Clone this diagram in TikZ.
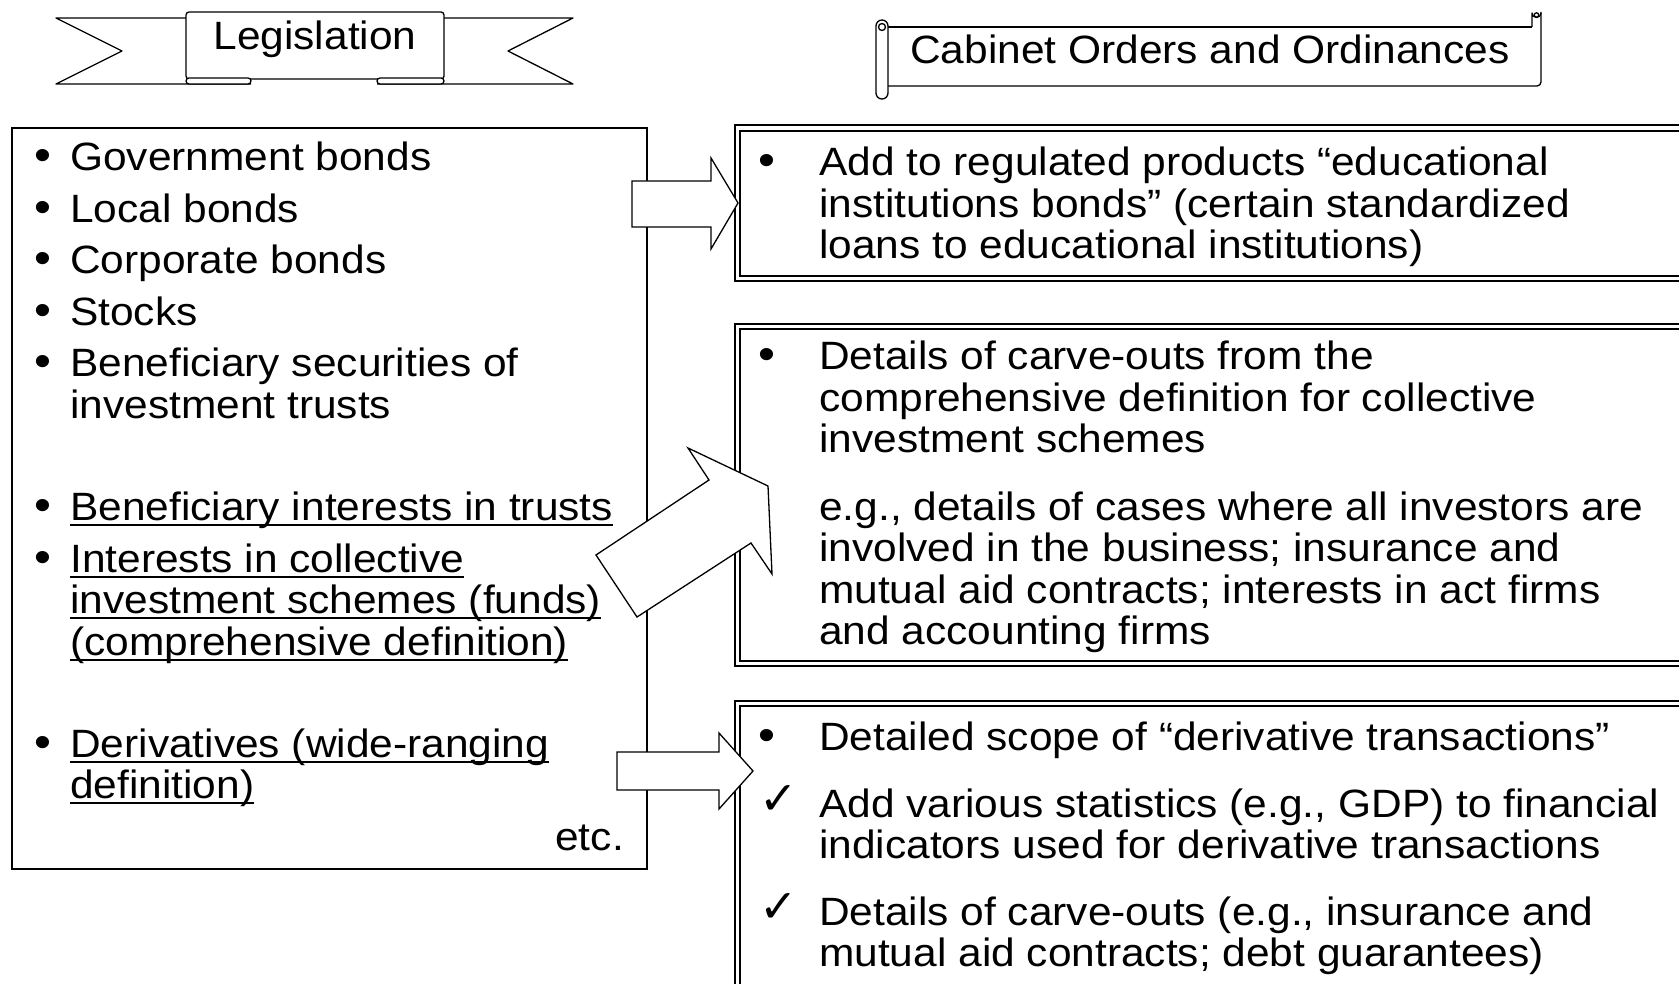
\documentclass[tikz,border=0pt]{standalone}
\usepackage{fontspec}
\setmainfont{Liberation Sans}[FakeStretch=1.075]
\newfontfamily\checkfont{DejaVu Sans}
% underlined text: rule a few points below the baseline
\newcommand{\ulined}[1]{\leavevmode\setbox0\hbox{#1}\rlap{\rule[-5.5pt]{\wd0}{1.9pt}}\box0}
% ragged block of lines whose baseline is the first line
\newcommand{\multiline}[2]{\parbox[t]{#1}{\raggedright #2}}

\begin{document}
\begin{tikzpicture}[x=1pt,y=-1pt,
  txt/.style={anchor=base west,inner sep=0pt,font=\fontsize{39.5}{41.5}\selectfont},
  dot/.style={anchor=base,inner sep=0pt,font=\fontsize{45}{41.5}\selectfont},
  tick/.style={anchor=base,inner sep=0pt,font=\checkfont\bfseries\fontsize{46}{46}\selectfont},
  frame/.style={line width=1.3pt},
  outerline/.style={line width=1.3pt},
  innerline/.style={line width=2.2pt},
  outline/.style={line width=1.3pt,line join=round},
  blockarrow/.style={draw,fill=white,line width=1.3pt,line join=miter}]

\fill[white] (0,0) rectangle (1679,984);
\clip (0,0) rectangle (1679,984);

% ---------- ribbon banner: Legislation ----------
\draw[outline] (186,18) -- (56,18) -- (122,51) -- (56,84) -- (251,84);
\draw[outline] (444,18) -- (573,18) -- (508,51) -- (573,84) -- (377,84);
\draw[outline,fill=white,rounded corners=3pt] (186,79) rectangle (444,12);
\draw[outline,fill=white,rounded corners=3pt] (186,78) rectangle (251,84);
\draw[outline,fill=white,rounded corners=3pt] (377,78) rectangle (444,84);
\node[anchor=base,inner sep=0pt,font=\fontsize{39.5}{41.5}\selectfont] (legis) at (315,50) {Legislation};

% ---------- horizontal scroll: Cabinet Orders ----------
\draw[outline] (888,27) -- (1532,27);
\draw[outline,rounded corners=4pt] (1541,12) -- (1541,86) -- (888,86);
\draw[outline] (1532,27) -- (1532,13) arc[start angle=180,end angle=0,radius=4.5];
\draw[outline] (1536.5,15) circle[radius=2.2];
\draw[outline,fill=white,rounded corners=6pt] (876,20) rectangle (888,99);
\draw[outline] (882,27) circle[radius=3.5];
\node[anchor=base,inner sep=0pt,font=\fontsize{39.5}{41.5}\selectfont] (cabinet) at (1210,64) {Cabinet Orders and Ordinances};

% ---------- left box: products defined in legislation ----------
\draw[frame] (12,128) rectangle (647,869);

\node[dot] (lb1) at (43,171) {•};
\node[txt] (lt1) at (70,171) {Government bonds};
\node[dot] (lb2) at (43,223) {•};
\node[txt] (lt2) at (70,223) {Local bonds};
\node[dot] (lb3) at (43,274) {•};
\node[txt] (lt3) at (70,274) {Corporate bonds};
\node[dot] (lb4) at (43,326) {•};
\node[txt] (lt4) at (70,326) {Stocks};
\node[dot] (lb5) at (43,377) {•};
\node[txt] (lt5) at (70,377) {\multiline{560pt}{Beneficiary securities of\\investment trusts}};
\node[dot] (lb6) at (43,520) {•};
\node[txt] (lt6) at (70,520) {\ulined{Beneficiary interests in trusts}};
\node[dot] (lb7) at (43,572) {•};
\node[txt] (lt7) at (70,572) {\multiline{560pt}{\ulined{Interests in collective}\\\ulined{investment schemes (funds)}\\\ulined{(comprehensive definition)}}};
\node[dot] (lb8) at (43,757) {•};
\node[txt] (lt8) at (70,757) {\multiline{560pt}{\ulined{Derivatives (wide-ranging}\\\ulined{definition)}}};
\node[txt,anchor=base east] (etc) at (624,850) {etc.};

% ---------- right boxes: details in Cabinet Orders ----------
\draw[outerline] (735,125) rectangle (1700,281);
\draw[innerline] (740,131) rectangle (1700,276);
\draw[outerline] (735,324) rectangle (1700,666);
\draw[innerline] (740,329) rectangle (1700,661);
\draw[outerline] (735,701) rectangle (1700,1010);
\draw[innerline] (740,706) rectangle (1700,1010);

\node[dot] (rb1) at (767,176) {•};
\node[txt] (rt1) at (819,176) {\multiline{860pt}{Add to regulated products “educational\\institutions bonds” (certain standardized\\loans to educational institutions)}};

\node[dot] (rb2) at (767,370) {•};
\node[txt] (rt2) at (819,370) {\multiline{860pt}{Details of carve-outs from the\\comprehensive definition for collective\\investment schemes}};
\node[txt] (rt2e) at (819,520) {\multiline{860pt}{e.g., details of cases where all investors are\\involved in the business; insurance and\\mutual aid contracts; interests in act firms\\and accounting firms}};

\node[dot] (rb3) at (767,750) {•};
\node[txt] (rt3) at (819,750) {Detailed scope of “derivative transactions”};
\node[tick] (rc1) at (779,814) {✓};
\node[txt] (rt4) at (819,817) {\multiline{860pt}{Add various statistics (e.g., GDP) to financial\\indicators used for derivative transactions}};
\node[tick] (rc2) at (779,922) {✓};
\node[txt] (rt5) at (819,925) {\multiline{860pt}{Details of carve-outs (e.g., insurance and\\mutual aid contracts; debt guarantees)}};

% ---------- block arrows ----------
\draw[blockarrow] (632,181) -- (711,181) -- (711,158) -- (738,203) -- (711,249) -- (711,227) -- (632,227) -- cycle;
\draw[blockarrow] (596,555) -- (709,480) -- (688,448) -- (768,486) -- (772,574) -- (751,543) -- (637,617) -- cycle;
\draw[blockarrow] (617,752) -- (719,752) -- (719,733) -- (753,771) -- (719,809) -- (719,790) -- (617,790) -- cycle;
\end{tikzpicture}
\end{document}
